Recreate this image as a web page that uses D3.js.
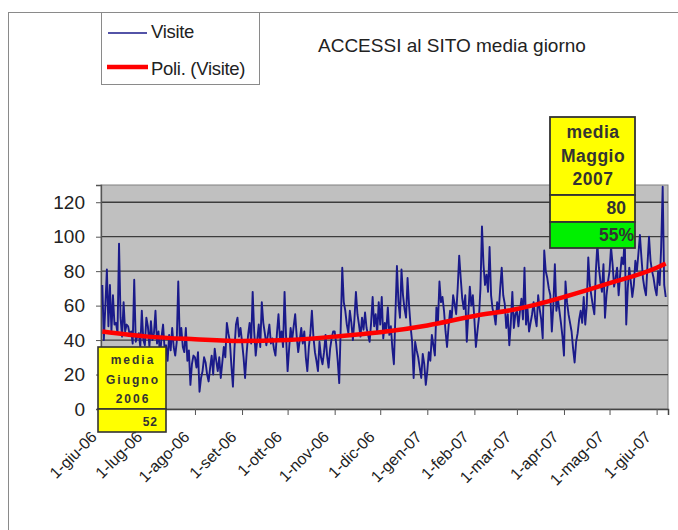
<!DOCTYPE html>
<html>
<head>
<meta charset="utf-8">
<script src="https://cdn.jsdelivr.net/npm/d3@7"></script>
<style>
body{margin:0;background:#fff;}
svg text{font-family:"Liberation Sans",Arial,sans-serif;}
</style>
</head>
<body>
<div id="chart"></div>
<script>
var w=678;
var h=530;

// visite giornaliere, un array per mese
var giu06=[72,40,60,81,48,72,45,66,49,50,44,96,53,42,62,45,49,48,43,45,38,75,39,42,44,36,57,40,37,53];
var lug06=[48,36,51,40,44,57,38,45,30,42,49,35,37,28,43,34,47,36,31,39,74,40,47,36,33,47,28,34,14,26,31];
var ago06=[30,24,33,10,18,22,30,27,20,16,24,31,20,35,28,22,30,18,27,36,30,50,44,39,25,13,35,49,53,42,47];
var set06=[39,30,18,32,43,50,38,68,45,31,40,49,36,62,50,44,37,43,49,38,41,35,31,44,55,40,45,36,68,42];
var ott06=[22,35,47,40,48,55,42,33,40,47,38,45,30,22,36,44,57,42,33,28,22,39,30,26,33,43,31,24,35,41,45];
var nov06=[45,38,28,15,48,82,62,57,49,44,57,50,40,52,68,55,49,42,53,46,56,47,43,39,50,65,48,55,44,62];
var dic06=[49,65,41,50,46,59,43,48,35,26,55,83,62,53,81,66,58,53,76,60,48,39,18,39,34,30,24,18,32,26,14];
var gen07=[22,33,28,43,37,31,59,50,74,62,65,57,45,36,48,57,52,66,61,55,70,89,76,64,58,66,39,55,71,60,66];
var feb07=[52,36,45,53,70,106,84,72,78,68,94,66,58,55,49,62,56,70,82,66,61,47,55,37,50,68,47,55];
var mar07=[57,48,57,64,52,82,49,58,45,50,55,62,53,48,66,58,52,41,92,80,76,70,66,45,60,84,57,64,57,50,42];
var apr07=[31,74,62,55,50,45,35,27,39,44,52,57,50,65,49,60,88,72,66,60,55,80,96,82,74,68,84,53,66,74];
var mag07=[80,94,84,71,76,82,66,78,88,84,100,49,70,82,74,65,72,86,80,90,101,88,76,70,66,84,100,86,80,76,70];
var giu07=[66,80,72,94,129,72,65];

// linea di tendenza (Poli.) letta al primo di ogni mese
var trendDays=[0,30,61,92,122,153,183,214,245,273,304,334,365,371];
var trendValues=[45,42,40.5,39.5,40,42,44.5,48.5,54,58,65,73,82,84.5];

var xTickLabels=["1-giu-06","1-lug-06","1-ago-06","1-set-06","1-ott-06","1-nov-06","1-dic-06",
  "1-gen-07","1-feb-07","1-mar-07","1-apr-07","1-mag-07","1-giu-07"];
var yTicks=[0,20,40,60,80,100,120];

var boxGiugno=["media","Giugno","2006"];
var mediaGiugno=52;
var boxMaggio=["media","Maggio","2007"];
var mediaMaggio=80;
var crescita="55%";

var startDate=new Date(2006,5,1);
var visite=[].concat(giu06,lug06,ago06,set06,ott06,nov06,dic06,gen07,feb07,mar07,apr07,mag07,giu07);

var plotLeft=101, plotRight=668, plotTop=185, plotBottom=409;
var svg, xScale, yScale;

function setScales(){
  xScale=d3.scaleTime()
    .domain([new Date(2006,4,31,3), new Date(2007,5,8,12)])
    .range([plotLeft, plotRight]);
  yScale=d3.scaleLinear()
    .domain([0,130])
    .range([plotBottom, plotTop]);
}

function drawPlotArea(){
  svg.append("rect")
    .attr("x",plotLeft).attr("y",plotTop)
    .attr("width",plotRight-plotLeft).attr("height",plotBottom-plotTop)
    .attr("fill","#c0c0c0").attr("stroke","#808080");

  svg.append("g").selectAll("line")
    .data(yTicks.slice(1))
    .enter().append("line")
    .attr("x1",plotLeft).attr("x2",plotRight)
    .attr("y1",function(d){return yScale(d);})
    .attr("y2",function(d){return yScale(d);})
    .attr("stroke","#3c3c3c").attr("stroke-width",1.3);
}

function drawAxes(){
  var gy=svg.append("g")
    .attr("transform","translate("+plotLeft+",0)")
    .call(d3.axisLeft(yScale).tickValues(yTicks).tickSize(5).tickPadding(11));
  gy.select(".domain").attr("stroke","#555").attr("stroke-width",1.3);
  gy.selectAll(".tick line").attr("stroke","#555");
  gy.selectAll("text").attr("font-size","19px").attr("fill","#222")
    .style("font-family","'Liberation Sans',Arial,sans-serif");

  var tickDates=d3.timeMonth.range(new Date(2006,5,1), new Date(2007,5,2));
  var gx=svg.append("g")
    .attr("transform","translate(0,"+plotBottom+")")
    .call(d3.axisBottom(xScale).tickValues(tickDates).tickSize(6)
      .tickFormat(function(d,i){return xTickLabels[i];}));
  gx.select(".domain").attr("stroke","#444").attr("stroke-width",1.5);
  gx.selectAll(".tick line").attr("stroke","#555");
  gx.selectAll("text")
    .attr("font-size","16px").attr("fill","#222")
    .style("font-family","'Liberation Sans',Arial,sans-serif")
    .style("text-anchor","end")
    .attr("x",null).attr("y",null).attr("dy",null)
    .attr("transform","translate(-5,29) rotate(-45)");
}

function drawLines(){
  var line=d3.line()
    .x(function(d,i){return xScale(d3.timeDay.offset(startDate,i));})
    .y(function(d){return yScale(d);});
  svg.append("path")
    .datum(visite)
    .attr("d",line)
    .attr("fill","none")
    .attr("stroke","#1a1a8a")
    .attr("stroke-width",1.9)
    .attr("stroke-linejoin","round");

  var trend=d3.line()
    .curve(d3.curveMonotoneX)
    .x(function(d,i){return xScale(d3.timeDay.offset(startDate,trendDays[i]));})
    .y(function(d){return yScale(d);});
  svg.append("path")
    .datum(trendValues)
    .attr("d",trend)
    .attr("fill","none")
    .attr("stroke","#ff0000")
    .attr("stroke-width",4.5);
}

function drawBoxes(){
  // box Giugno 2006
  var g1=svg.append("g");
  g1.append("rect").attr("x",98).attr("y",347).attr("width",68).attr("height",62)
    .attr("fill","#ffff00").attr("stroke","#333").attr("stroke-width",1.6);
  g1.append("rect").attr("x",98).attr("y",409).attr("width",68).attr("height",23)
    .attr("fill","#ffff00").attr("stroke","#333").attr("stroke-width",1.6);
  g1.selectAll(".lbl").data(boxGiugno).enter().append("text")
    .attr("x",133).attr("y",function(d,i){return 364+i*19.5;})
    .attr("text-anchor","middle").attr("font-size","12px").attr("font-weight","bold")
    .attr("letter-spacing","2").attr("fill","#333")
    .text(function(d){return d;});
  g1.append("text").attr("x",158).attr("y",426)
    .attr("text-anchor","end").attr("font-size","12px").attr("font-weight","bold")
    .attr("letter-spacing","1").attr("fill","#333").text(mediaGiugno);

  // box Maggio 2007
  var g2=svg.append("g");
  g2.append("rect").attr("x",550).attr("y",117).attr("width",85).attr("height",78)
    .attr("fill","#ffff00").attr("stroke","#333").attr("stroke-width",1.8);
  g2.append("rect").attr("x",550).attr("y",195).attr("width",85).attr("height",27)
    .attr("fill","#ffff00").attr("stroke","#333").attr("stroke-width",1.8);
  g2.append("rect").attr("x",550).attr("y",222).attr("width",85).attr("height",26)
    .attr("fill","#00f000").attr("stroke","#333").attr("stroke-width",1.8);
  g2.selectAll(".lbl").data(boxMaggio).enter().append("text")
    .attr("x",593).attr("y",function(d,i){return 138+i*23.5;})
    .attr("text-anchor","middle").attr("font-size","17.5px").attr("font-weight","bold")
    .attr("letter-spacing","0.5").attr("fill","#333")
    .text(function(d){return d;});
  g2.append("text").attr("x",626).attr("y",214)
    .attr("text-anchor","end").attr("font-size","17.5px").attr("font-weight","bold")
    .attr("fill","#333").text(mediaMaggio);
  g2.append("text").attr("x",634).attr("y",241)
    .attr("text-anchor","end").attr("font-size","17.5px").attr("font-weight","bold")
    .attr("fill","#333").text(crescita);
}

function drawLegendTitle(){
  svg.append("rect").attr("x",8.5).attr("y",12.5).attr("width",720).attr("height",560)
    .attr("fill","none").attr("stroke","#8a8a8a");

  svg.append("rect").attr("x",101.5).attr("y",12.5).attr("width",158).attr("height",72)
    .attr("fill","#fff").attr("stroke","#8a8a8a");
  svg.append("line").attr("x1",108).attr("x2",147).attr("y1",33).attr("y2",33)
    .attr("stroke","#1a1a8a").attr("stroke-width",1.6);
  svg.append("text").attr("x",151).attr("y",38).attr("font-size","18.5px")
    .attr("letter-spacing","-0.3").attr("fill","#222").text("Visite");
  svg.append("line").attr("x1",107).attr("x2",148).attr("y1",67).attr("y2",67)
    .attr("stroke","#ff0000").attr("stroke-width",4.5);
  svg.append("text").attr("x",151).attr("y",75).attr("font-size","18.5px")
    .attr("letter-spacing","-0.3").attr("fill","#222").text("Poli. (Visite)");

  svg.append("text").attr("x",318).attr("y",52).attr("font-size","19px")
    .attr("letter-spacing","0").attr("fill","#222").text("ACCESSI al SITO media giorno");
}

function runChart(){
  setScales();
  svg=d3.select("#chart").append("svg").attr("width",w).attr("height",h);
  drawLegendTitle();
  drawPlotArea();
  drawAxes();
  drawLines();
  drawBoxes();
}
runChart();
</script>
</body>
</html>
